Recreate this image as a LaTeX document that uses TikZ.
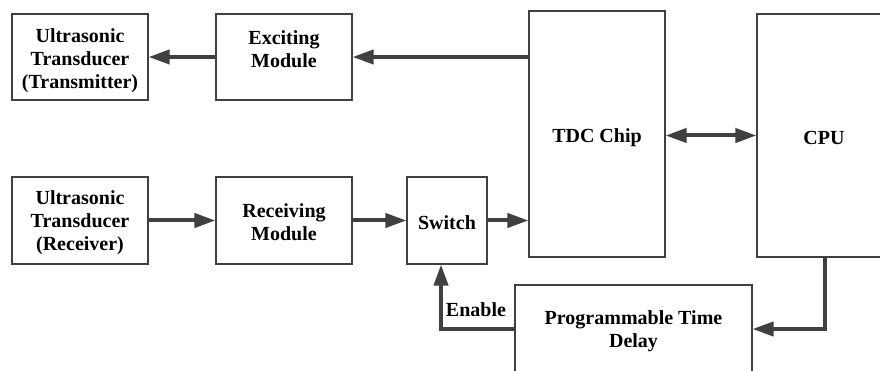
\documentclass[tikz,border=0pt]{standalone}
\usepackage{fontspec}
\setmainfont{Liberation Serif}
\usetikzlibrary{arrows.meta}
\definecolor{ln}{HTML}{404040}
\tikzset{
  box/.style={draw=ln, line width=1.2pt, inner sep=0pt, anchor=center},
  lbl/.style={align=center, inner sep=0pt, yshift=-2.5pt, font=\fontsize{20}{23}\selectfont\bfseries, text=black},
  arr/.style={draw=ln, line width=4pt, -{Triangle[length=21pt,width=14pt]}},
  darr/.style={draw=ln, line width=4pt, {Triangle[length=21pt,width=14pt]}-{Triangle[length=21pt,width=14pt]}}
}
\begin{document}
\begin{tikzpicture}[x=1pt,y=-1pt]
\useasboundingbox (0,0) rectangle (880,371);
\clip (0,0) rectangle (880,371);
\fill[white] (0,0) rectangle (880,371);
% boxes
\node[box, minimum width=136pt, minimum height=86pt] (tx) at (80,57) {};
\node[lbl] (txt) at (80,58) {Ultrasonic\\Transducer\\(Transmitter)};
\node[box, minimum width=136pt, minimum height=86pt] (exc) at (284,57) {};
\node[lbl] (exct) at (284,46.5) {Exciting\\Module};
\node[box, minimum width=136pt, minimum height=246pt] (tdc) at (597,134) {};
\node[lbl] (tdct) at (597,135) {TDC Chip};
\node[box, minimum width=136pt, minimum height=243pt] (cpu) at (825,135.5) {};
\node[lbl] (cput) at (824,135) {CPU};
\node[box, minimum width=136pt, minimum height=87pt] (rx) at (80,220.5) {};
\node[lbl] (rxt) at (80,220.5) {Ultrasonic\\Transducer\\(Receiver)};
\node[box, minimum width=136pt, minimum height=87pt] (rcv) at (284,220.5) {};
\node[lbl] (rcvt) at (284,219.5) {Receiving\\Module};
\node[box, minimum width=80pt, minimum height=87pt] (sw) at (447,220.5) {};
\node[lbl] (swt) at (447,220) {Switch};
\node[box, minimum width=237pt, minimum height=88pt] (ptd) at (633.5,329) {};
\node[lbl] (ptdt) at (633.5,328.5) {Programmable Time\\Delay};
\node[lbl] (en) at (476,307) {Enable};
% connectors
\draw[arr] (exc.west) -- (tx.east);
\draw[arr] (tdc.west |- exc.east) -- (exc.east);
\draw[arr] (rx.east) -- (rcv.west);
\draw[arr] (rcv.east) -- (sw.west);
\draw[arr] (sw.east) -- (sw.east -| tdc.west);
\draw[darr] (tdc.east |- cpu.west) -- (cpu.west);
\draw[arr] (cpu.south) |- (ptd.east);
\draw[arr] (ptd.west) -| ([xshift=-6pt]sw.south);
\end{tikzpicture}
\end{document}
